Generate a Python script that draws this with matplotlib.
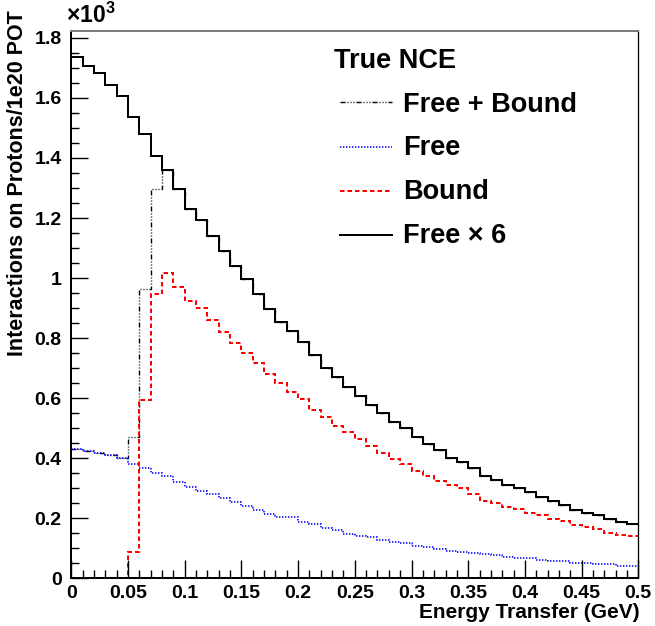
import numpy as np
import matplotlib
matplotlib.use("Agg")
import matplotlib.pyplot as plt
from matplotlib.lines import Line2D
from matplotlib.ticker import MultipleLocator, FuncFormatter

plt.rcParams["font.family"] = ["Liberation Sans", "DejaVu Sans"]
plt.rcParams["font.weight"] = "bold"
plt.rcParams["mathtext.fontset"] = "custom"
plt.rcParams["mathtext.rm"] = "Liberation Sans:bold"
plt.rcParams["mathtext.bf"] = "Liberation Sans:bold"
plt.rcParams["lines.scale_dashes"] = False

# Energy transfer bins (GeV), 0.01 GeV wide
bin_edges = np.round(np.linspace(0.0, 0.5, 51), 3)

# Interactions on protons per 1e20 POT, in units of 10^3
free = [0.432, 0.424, 0.419, 0.410, 0.401, 0.382, 0.369, 0.351, 0.341, 0.321,
        0.304, 0.291, 0.280, 0.268, 0.254, 0.241, 0.229, 0.213, 0.204, 0.204,
        0.188, 0.180, 0.166, 0.160, 0.149, 0.140, 0.137, 0.129, 0.120, 0.116,
        0.109, 0.103, 0.099, 0.092, 0.088, 0.083, 0.080, 0.076, 0.072, 0.069,
        0.066, 0.060, 0.059, 0.057, 0.051, 0.050, 0.049, 0.046, 0.042, 0.041]

bound = [0.000, 0.000, 0.000, 0.000, 0.000, 0.088, 0.593, 0.947, 1.016, 0.971,
         0.924, 0.901, 0.860, 0.819, 0.784, 0.749, 0.716, 0.682, 0.649, 0.621,
         0.596, 0.562, 0.537, 0.508, 0.486, 0.463, 0.440, 0.416, 0.397, 0.382,
         0.358, 0.340, 0.323, 0.310, 0.300, 0.281, 0.259, 0.251, 0.239, 0.230,
         0.219, 0.212, 0.198, 0.190, 0.179, 0.170, 0.163, 0.152, 0.145, 0.140]

free_plus_bound = [0.432, 0.424, 0.419, 0.410, 0.401, 0.470, 0.962, 1.298, 1.360, 1.296,
                   1.229, 1.193, 1.141, 1.091, 1.040, 0.996, 0.947, 0.896, 0.854, 0.824,
                   0.786, 0.745, 0.702, 0.669, 0.638, 0.608, 0.577, 0.549, 0.521, 0.502,
                   0.469, 0.446, 0.427, 0.402, 0.388, 0.366, 0.340, 0.329, 0.310, 0.302,
                   0.288, 0.270, 0.258, 0.245, 0.229, 0.218, 0.210, 0.199, 0.188, 0.182]

free_x6 = [1.738, 1.707, 1.684, 1.643, 1.608, 1.536, 1.479, 1.407, 1.360, 1.296,
           1.229, 1.193, 1.141, 1.091, 1.040, 0.996, 0.947, 0.896, 0.854, 0.824,
           0.786, 0.745, 0.702, 0.669, 0.638, 0.608, 0.577, 0.549, 0.521, 0.502,
           0.469, 0.446, 0.427, 0.402, 0.388, 0.366, 0.340, 0.329, 0.310, 0.302,
           0.288, 0.270, 0.258, 0.245, 0.229, 0.218, 0.210, 0.199, 0.188, 0.182]

legend_title = "True NCE"
series_labels = ["Free + Bound", "Free", "Bound", "Free × 6"]

W, H = 655, 626
fig = plt.figure(figsize=(W / 100, H / 100), dpi=100)
x0, x1, y0, y1 = 71.3, 638.3, 578.3, 31.0
ax = fig.add_axes([x0 / W, (H - y0) / H, (x1 - x0) / W, (y0 - y1) / H])

px = 0.72  # points per pixel at 100 dpi
style_fb = dict(color="black", lw=1.4 * px,
                linestyle=(0, (5 * px, 2 * px, 1 * px, 2 * px, 1 * px, 2 * px, 1 * px, 2 * px)))
style_free = dict(color="#0000ff", lw=1.6 * px, linestyle=(0, (1.4 * px, 1.6 * px)))
style_bound = dict(color="#ff0000", lw=2.0 * px, linestyle=(0, (4.5 * px, 3.0 * px)))
style_x6 = dict(color="black", lw=2.0 * px, linestyle="-")

ax.stairs(free_plus_bound, bin_edges, baseline=None, **style_fb)
ax.stairs(free, bin_edges, baseline=None, **style_free)
ax.stairs(bound, bin_edges, baseline=None, **style_bound)
ax.stairs(free_x6, bin_edges, baseline=None, **style_x6)

ax.set_xlim(0, 0.5)
ax.set_ylim(0, 1.823)

ax.xaxis.set_major_locator(MultipleLocator(0.05))
ax.xaxis.set_minor_locator(MultipleLocator(0.01))
ax.yaxis.set_major_locator(MultipleLocator(0.2))
ax.yaxis.set_minor_locator(MultipleLocator(0.05))
fmt = FuncFormatter(lambda v, p: ("%g" % round(v, 3)))
ax.xaxis.set_major_formatter(fmt)
ax.yaxis.set_major_formatter(fmt)

ax.tick_params(which="both", direction="in", top=False, right=False,
               width=1.4 * px, labelsize=14)
ax.tick_params(axis="x", which="major", length=18 * px, pad=5)
ax.tick_params(axis="x", which="minor", length=8 * px)
ax.tick_params(axis="y", which="major", length=17 * px, pad=7)
ax.tick_params(axis="y", which="minor", length=8 * px)

for s in ("left", "bottom"):
    ax.spines[s].set_linewidth(2.0 * px)
    ax.spines[s].set_color("black")
ax.spines["top"].set_color("#7a7a7a")
ax.spines["top"].set_linewidth(2.0 * px)
ax.spines["right"].set_color("black")
ax.spines["right"].set_linewidth(1.3 * px)

def fx(p):
    return p / W

def fy(p):
    return 1 - p / H

fig.text(fx(640), fy(613), "Energy Transfer (GeV)", ha="right", va="center",
         fontsize=15, fontweight="bold")
fig.text(fx(18), fy(10), "Interactions on Protons/1e20 POT", ha="center", va="top",
         rotation=90, fontsize=15.5, fontweight="bold")
fig.text(fx(66), fy(23), r"$\times$10$^{3}$", ha="left", va="baseline", fontsize=16.5)

# Legend block
fig.text(fx(334), fy(68.3), legend_title, ha="left", va="baseline", fontsize=19.5)
rows = [(101.7, 111.7, style_fb), (146.7, 155.0, style_free),
        (191.0, 199.3, style_bound), (235.0, 243.3, style_x6)]
for (ly, tb, st), lab in zip(rows, series_labels):
    fig.add_artist(Line2D([fx(340), fx(392)], [fy(ly), fy(ly)],
                          transform=fig.transFigure, **st))
    fig.text(fx(403), fy(tb), lab, ha="left", va="baseline", fontsize=19.5)

fig.savefig("out.png", dpi=100)
